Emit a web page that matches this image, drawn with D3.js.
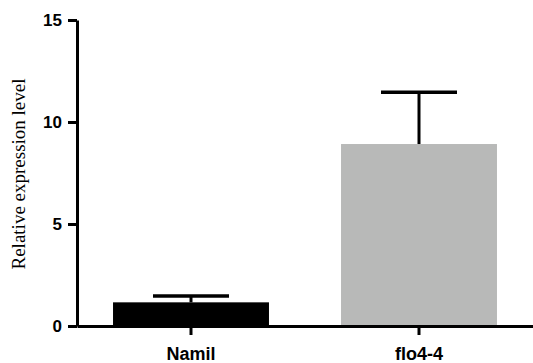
<!doctype html>
<html>
<head>
<style>
body { margin: 0; background: #fff; }
.axis path, .axis line { stroke: #000; stroke-width: 3px; }
.axis text { font-family: "Liberation Sans", Arial, sans-serif; font-weight: bold; fill: #000; }
.y.axis text { font-size: 17px; }
.x.axis text { font-size: 18px; }
</style>
</head>
<body>
<div id="root"></div>
<script src="https://d3js.org/d3.v7.min.js"></script>
<script>
var groups = ['Namil', 'flo4-4'];
var means = [1.16, 8.92];
var errors = [0.31, 2.54];
var colors = ['#000000', '#b8b9b8'];
var yTicks = [0, 5, 10, 15];

var width = 533, height = 363;
var svg = d3.select('#root').append('svg')
	.attr('width', width)
	.attr('height', height);

var x = d3.scaleBand().domain(groups).range([77, 533])
	.paddingInner(0.316).paddingOuter(0.158);
var y = d3.scaleLinear().domain([0, 15]).range([326, 20]);

// bars
svg.selectAll('.bar')
	.data(groups)
	.enter().append('rect')
		.attr('x', function(d){ return x(d); })
		.attr('width', x.bandwidth())
		.attr('y', function(d, i){ return y(means[i]); })
		.attr('height', function(d, i){ return y(0) - y(means[i]); })
		.attr('fill', function(d, i){ return colors[i]; });

// error bars (upper only)
var eb = svg.selectAll('.err')
	.data(groups)
	.enter().append('g');
eb.append('line')
	.attr('x1', function(d){ return x(d) + x.bandwidth() / 2; })
	.attr('x2', function(d){ return x(d) + x.bandwidth() / 2; })
	.attr('y1', function(d, i){ return y(means[i]); })
	.attr('y2', function(d, i){ return y(means[i] + errors[i]); })
	.attr('stroke', '#000').attr('stroke-width', 3);
eb.append('line')
	.attr('x1', function(d){ return x(d) + x.bandwidth() / 2 - 38; })
	.attr('x2', function(d){ return x(d) + x.bandwidth() / 2 + 38; })
	.attr('y1', function(d, i){ return y(means[i] + errors[i]); })
	.attr('y2', function(d, i){ return y(means[i] + errors[i]); })
	.attr('stroke', '#000').attr('stroke-width', 3.5);

// axes
svg.append('g')
	.attr('class', 'y axis')
	.attr('transform', 'translate(77,0)')
	.call(d3.axisLeft(y).tickValues(yTicks).tickSize(9).tickPadding(6).tickSizeOuter(0));

svg.append('g')
	.attr('class', 'x axis')
	.attr('transform', 'translate(0,326)')
	.call(d3.axisBottom(x).tickSize(9).tickPadding(12).tickSizeOuter(0));

svg.append('text')
	.attr('transform', 'translate(25,174) rotate(-90)')
	.attr('text-anchor', 'middle')
	.style('font-family', '"Liberation Serif", "Times New Roman", serif')
	.style('font-size', '19px')
	.text('Relative expression level');
</script>
</body>
</html>
